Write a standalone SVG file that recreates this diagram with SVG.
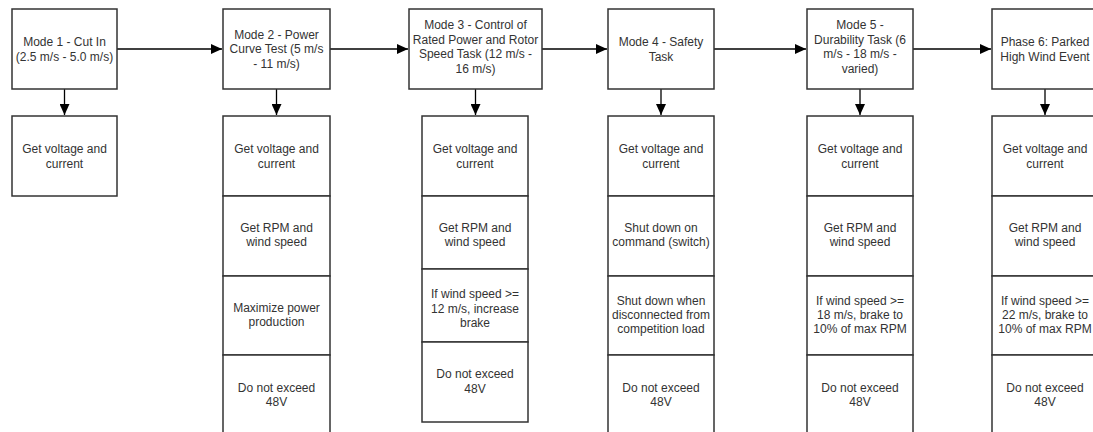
<svg xmlns="http://www.w3.org/2000/svg" width="1093" height="432" viewBox="0 0 1093 432">
<defs>
<style>
.box{fill:#fff;stroke:#333;stroke-width:1.5}
.t{font-family:"Liberation Sans",Arial,sans-serif;font-size:12px;fill:#333;text-anchor:middle}
.c{stroke:#000;stroke-width:1.3;fill:none;marker-end:url(#ah)}
</style>
<marker id="ah" markerUnits="userSpaceOnUse" markerWidth="12" markerHeight="10" refX="11" refY="5" orient="auto">
<path d="M0,0 L11,5 L0,10 Z" fill="#000"/>
</marker>
</defs>
<rect width="1093" height="432" fill="#fff"/>
<g id="connectors">
<line class="c" x1="117" y1="49" x2="222" y2="49"/>
<line class="c" x1="330" y1="49" x2="408" y2="49"/>
<line class="c" x1="542" y1="49" x2="607" y2="49"/>
<line class="c" x1="714" y1="49" x2="806" y2="49"/>
<line class="c" x1="913" y1="49" x2="991" y2="49"/>
<line class="c" x1="64.5" y1="89" x2="64.5" y2="115"/>
<line class="c" x1="276.5" y1="89" x2="276.5" y2="115"/>
<line class="c" x1="475.5" y1="89" x2="475.5" y2="115"/>
<line class="c" x1="661" y1="89" x2="661" y2="115"/>
<line class="c" x1="860" y1="89" x2="860" y2="115"/>
<line class="c" x1="1045" y1="89" x2="1045" y2="115"/>
</g>
<g id="mode1">
<rect class="box" x="12" y="9" width="105" height="80"/>
<text class="t"><tspan x="64.5" y="46.1">Mode 1 - Cut In</tspan><tspan x="64.5" y="60.5">(2.5 m/s - 5.0 m/s)</tspan></text>
</g>
<g id="mode1-voltage">
<rect class="box" x="12" y="116" width="105" height="80"/>
<text class="t"><tspan x="64.5" y="153.1">Get voltage and</tspan><tspan x="64.5" y="167.5">current</tspan></text>
</g>
<g id="mode2">
<rect class="box" x="223" y="9" width="107" height="80"/>
<text class="t"><tspan x="276.5" y="38.9">Mode 2 - Power</tspan><tspan x="276.5" y="53.3">Curve Test (5 m/s</tspan><tspan x="276.5" y="67.7">- 11 m/s)</tspan></text>
</g>
<g id="mode2-voltage">
<rect class="box" x="223" y="116" width="107" height="80"/>
<text class="t"><tspan x="276.5" y="153.1">Get voltage and</tspan><tspan x="276.5" y="167.5">current</tspan></text>
</g>
<g id="mode2-rpm">
<rect class="box" x="223" y="196" width="107" height="80"/>
<text class="t"><tspan x="276.5" y="231.6">Get RPM and</tspan><tspan x="276.5" y="246">wind speed</tspan></text>
</g>
<g id="mode2-max">
<rect class="box" x="223" y="276" width="107" height="79"/>
<text class="t"><tspan x="276.5" y="311.6">Maximize power</tspan><tspan x="276.5" y="326">production</tspan></text>
</g>
<g id="mode2-48v">
<rect class="box" x="223" y="355" width="107" height="80"/>
<text class="t"><tspan x="276.5" y="391.6">Do not exceed</tspan><tspan x="276.5" y="406">48V</tspan></text>
</g>
<g id="mode3">
<rect class="box" x="409" y="9" width="133" height="80"/>
<text class="t"><tspan x="475.5" y="29.3">Mode 3 - Control of</tspan><tspan x="475.5" y="43.7">Rated Power and Rotor</tspan><tspan x="475.5" y="58.1">Speed Task (12 m/s -</tspan><tspan x="475.5" y="72.5">16 m/s)</tspan></text>
</g>
<g id="mode3-voltage">
<rect class="box" x="422" y="116" width="106" height="80"/>
<text class="t"><tspan x="475" y="153.1">Get voltage and</tspan><tspan x="475" y="167.5">current</tspan></text>
</g>
<g id="mode3-rpm">
<rect class="box" x="422" y="196" width="106" height="73"/>
<text class="t"><tspan x="475" y="231.6">Get RPM and</tspan><tspan x="475" y="246">wind speed</tspan></text>
</g>
<g id="mode3-brake">
<rect class="box" x="422" y="269" width="106" height="73"/>
<text class="t"><tspan x="475" y="298.3">If wind speed &gt;=</tspan><tspan x="475" y="312.7">12 m/s, increase</tspan><tspan x="475" y="327.1">brake</tspan></text>
</g>
<g id="mode3-48v">
<rect class="box" x="422" y="342" width="106" height="80"/>
<text class="t"><tspan x="475" y="378.3">Do not exceed</tspan><tspan x="475" y="392.7">48V</tspan></text>
</g>
<g id="mode4">
<rect class="box" x="608" y="9" width="106" height="80"/>
<text class="t"><tspan x="661" y="46.1">Mode 4 - Safety</tspan><tspan x="661" y="60.5">Task</tspan></text>
</g>
<g id="mode4-voltage">
<rect class="box" x="608" y="116" width="106" height="80"/>
<text class="t"><tspan x="661" y="153.1">Get voltage and</tspan><tspan x="661" y="167.5">current</tspan></text>
</g>
<g id="mode4-switch">
<rect class="box" x="608" y="196" width="106" height="80"/>
<text class="t"><tspan x="661" y="231.6">Shut down on</tspan><tspan x="661" y="246">command (switch)</tspan></text>
</g>
<g id="mode4-disconnect">
<rect class="box" x="608" y="276" width="106" height="79"/>
<text class="t"><tspan x="661" y="304.6">Shut down when</tspan><tspan x="661" y="319">disconnected from</tspan><tspan x="661" y="333.4">competition load</tspan></text>
</g>
<g id="mode4-48v">
<rect class="box" x="608" y="355" width="106" height="80"/>
<text class="t"><tspan x="661" y="391.6">Do not exceed</tspan><tspan x="661" y="406">48V</tspan></text>
</g>
<g id="mode5">
<rect class="box" x="807" y="9" width="106" height="80"/>
<text class="t"><tspan x="860" y="29.3">Mode 5 -</tspan><tspan x="860" y="43.7">Durability Task (6</tspan><tspan x="860" y="58.1">m/s - 18 m/s -</tspan><tspan x="860" y="72.5">varied)</tspan></text>
</g>
<g id="mode5-voltage">
<rect class="box" x="807" y="116" width="106" height="80"/>
<text class="t"><tspan x="860" y="153.1">Get voltage and</tspan><tspan x="860" y="167.5">current</tspan></text>
</g>
<g id="mode5-rpm">
<rect class="box" x="807" y="196" width="106" height="80"/>
<text class="t"><tspan x="860" y="231.6">Get RPM and</tspan><tspan x="860" y="246">wind speed</tspan></text>
</g>
<g id="mode5-brake">
<rect class="box" x="807" y="276" width="106" height="79"/>
<text class="t"><tspan x="860" y="304.6">If wind speed &gt;=</tspan><tspan x="860" y="319">18 m/s, brake to</tspan><tspan x="860" y="333.4">10% of max RPM</tspan></text>
</g>
<g id="mode5-48v">
<rect class="box" x="807" y="355" width="106" height="80"/>
<text class="t"><tspan x="860" y="391.6">Do not exceed</tspan><tspan x="860" y="406">48V</tspan></text>
</g>
<g id="phase6">
<rect class="box" x="992" y="9" width="106" height="80"/>
<text class="t"><tspan x="1045" y="46.1">Phase 6: Parked</tspan><tspan x="1045" y="60.5">High Wind Event</tspan></text>
</g>
<g id="phase6-voltage">
<rect class="box" x="992" y="116" width="106" height="80"/>
<text class="t"><tspan x="1045" y="153.1">Get voltage and</tspan><tspan x="1045" y="167.5">current</tspan></text>
</g>
<g id="phase6-rpm">
<rect class="box" x="992" y="196" width="106" height="80"/>
<text class="t"><tspan x="1045" y="231.6">Get RPM and</tspan><tspan x="1045" y="246">wind speed</tspan></text>
</g>
<g id="phase6-brake">
<rect class="box" x="992" y="276" width="106" height="79"/>
<text class="t"><tspan x="1045" y="304.6">If wind speed &gt;=</tspan><tspan x="1045" y="319">22 m/s, brake to</tspan><tspan x="1045" y="333.4">10% of max RPM</tspan></text>
</g>
<g id="phase6-48v">
<rect class="box" x="992" y="355" width="106" height="80"/>
<text class="t"><tspan x="1045" y="391.6">Do not exceed</tspan><tspan x="1045" y="406">48V</tspan></text>
</g>
</svg>
